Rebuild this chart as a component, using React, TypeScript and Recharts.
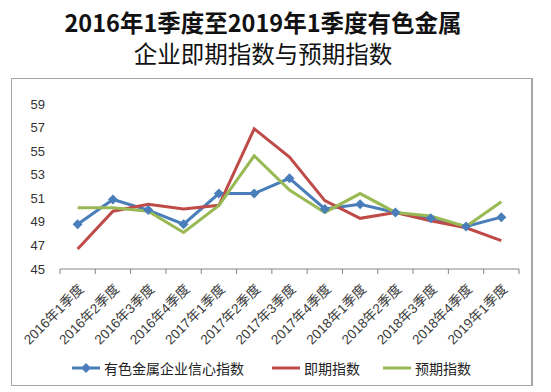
import { Line, LineChart, XAxis, YAxis } from "recharts";

const quarters = [
  "2016年1季度", "2016年2季度", "2016年3季度", "2016年4季度",
  "2017年1季度", "2017年2季度", "2017年3季度", "2017年4季度",
  "2018年1季度", "2018年2季度", "2018年3季度", "2018年4季度",
  "2019年1季度",
];
const confidence = [48.8, 50.9, 50.0, 48.8, 51.4, 51.4, 52.7, 50.1, 50.5, 49.8, 49.3, 48.6, 49.4];
const current = [46.7, 49.9, 50.5, 50.1, 50.4, 56.9, 54.5, 50.8, 49.3, 49.8, 49.1, 48.5, 47.4];
const expected = [50.2, 50.2, 49.9, 48.1, 50.4, 54.6, 51.7, 49.8, 51.4, 49.8, 49.5, 48.6, 50.7];
const yTicks = [45, 47, 49, 51, 53, 55, 57, 59];

const BLUE = "#4a7ebb";
const RED = "#be4b48";
const GREEN = "#98b954";
const AXIS = "#868686";
const FONT = "'Liberation Sans', 'Noto Sans CJK SC', sans-serif";
// plot is 459px wide, one band per quarter
const BAND = 459 / quarters.length;

const data = quarters.map((q, i) => ({
  q,
  confidence: confidence[i],
  current: current[i],
  expected: expected[i],
}));

function Diamond(props: any) {
  const { cx, cy } = props;
  if (cx == null || cy == null) return null;
  const r = 5;
  return <path d={`M${cx},${cy - r}L${cx + r},${cy}L${cx},${cy + r}L${cx - r},${cy}Z`} fill={BLUE} />;
}

function QuarterTick(props: any) {
  const { x, y, payload, index } = props;
  const last = index === quarters.length - 1;
  return (
    <g>
      <line x1={x - BAND / 2} y1={y} x2={x - BAND / 2} y2={y + 5} stroke={AXIS} />
      {last && <line x1={x + BAND / 2} y1={y} x2={x + BAND / 2} y2={y + 5} stroke={AXIS} />}
      <g transform={`translate(${x + 7},${y + 21})`}>
        <text transform="rotate(-45)" textAnchor="end" fontSize={13.5} fill="#3a3a3a" fontFamily={FONT}>
          {payload.value}
        </text>
      </g>
    </g>
  );
}

function LegendItem({ color, label, marker, width }: { color: string; label: string; marker?: boolean; width: number }) {
  return (
    <div style={{ display: "flex", alignItems: "center", width }}>
      <svg width={28} height={12} style={{ marginRight: 4 }}>
        <line x1={0} y1={6} x2={28} y2={6} stroke={color} strokeWidth={3} />
        {marker && <path d="M14,1L19,6L14,11L9,6Z" fill={color} />}
      </svg>
      <span style={{ fontSize: 14, color: "#222" }}>{label}</span>
    </div>
  );
}

export default function App() {
  return (
    <div style={{ position: "absolute", left: 0, top: 0, width: 551, height: 392, background: "#fff", fontFamily: FONT }}>
      <div style={{ position: "absolute", left: 0, top: 7, width: 526, textAlign: "center", fontFamily: "'Noto Sans CJK SC', sans-serif", fontSize: 23.5, lineHeight: "31px", color: "#111" }}>
        <div style={{ fontWeight: 700 }}>2016年1季度至2019年1季度有色金属</div>
        <div style={{ fontWeight: 400 }}>企业即期指数与预期指数</div>
      </div>
      <div style={{ position: "absolute", left: 11, top: 78, width: 519, height: 306, border: "1px solid #a6a6a6", borderRightWidth: 2 }} />
      <div style={{ position: "absolute", left: 0, top: 0 }}>
        <LineChart width={551} height={392} data={data} margin={{ top: 104, right: 32, left: 0, bottom: 0 }}>
          <XAxis
            dataKey="q"
            scale="band"
            interval={0}
            height={123}
            axisLine={{ stroke: AXIS }}
            tickLine={false}
            tickSize={0}
            tickMargin={0}
            tick={<QuarterTick />}
          />
          <YAxis
            width={60}
            domain={[45, 59]}
            ticks={yTicks}
            axisLine={false}
            tickLine={false}
            tickMargin={9}
            tick={{ fontSize: 13, fill: "#333", fontFamily: FONT }}
          />
          <Line dataKey="confidence" stroke={BLUE} strokeWidth={3} dot={<Diamond />} activeDot={false} isAnimationActive={false} />
          <Line dataKey="current" stroke={RED} strokeWidth={3} dot={false} activeDot={false} isAnimationActive={false} />
          <Line dataKey="expected" stroke={GREEN} strokeWidth={3} dot={false} activeDot={false} isAnimationActive={false} />
        </LineChart>
      </div>
      <div style={{ position: "absolute", left: 72, top: 359, display: "flex", alignItems: "center", height: 18 }}>
        <LegendItem color={BLUE} label="有色金属企业信心指数" marker width={200} />
        <LegendItem color={RED} label="即期指数" width={111} />
        <LegendItem color={GREEN} label="预期指数" width={100} />
      </div>
    </div>
  );
}
